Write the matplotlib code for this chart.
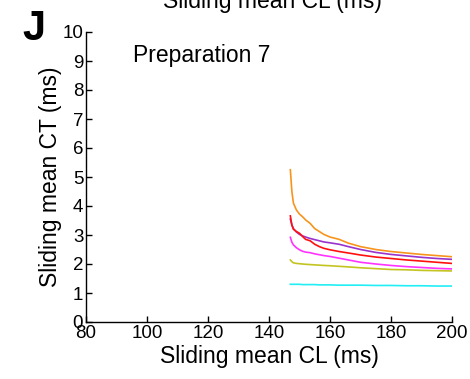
import matplotlib
matplotlib.use("Agg")
import matplotlib.pyplot as plt

plt.rcParams['font.family'] = ['Liberation Sans', 'DejaVu Sans']

cl = [147, 147.5, 148, 149, 150, 151, 152, 153.5, 155, 156.5, 158, 160,
      163, 166, 170, 175, 180, 185, 190, 195, 200]

ct_orange = [5.25, 4.5, 4.1, 3.86, 3.72, 3.63, 3.52, 3.4, 3.22, 3.12, 3.02, 2.93,
             2.85, 2.72, 2.6, 2.5, 2.43, 2.38, 2.33, 2.29, 2.25]
ct_purple = [3.55, 3.35, 3.22, 3.1, 3.02, 2.97, 2.93, 2.88, 2.84, 2.8, 2.76, 2.73,
             2.68, 2.6, 2.5, 2.4, 2.33, 2.28, 2.23, 2.19, 2.16]
ct_red = [3.66, 3.34, 3.2, 3.12, 3.06, 2.95, 2.85, 2.8, 2.68, 2.6, 2.54, 2.49,
          2.43, 2.38, 2.31, 2.24, 2.19, 2.14, 2.1, 2.06, 2.02]
ct_magenta = [2.92, 2.75, 2.66, 2.56, 2.49, 2.44, 2.41, 2.39, 2.35, 2.32, 2.29, 2.26,
              2.2, 2.14, 2.06, 2.0, 1.95, 1.91, 1.88, 1.85, 1.83]
ct_olive = [2.14, 2.08, 2.04, 2.02, 2.01, 2.0, 1.99, 1.98, 1.97, 1.96, 1.95, 1.94,
            1.92, 1.9, 1.87, 1.84, 1.81, 1.8, 1.78, 1.77, 1.76]
ct_cyan = [1.3, 1.3, 1.3, 1.3, 1.3, 1.29, 1.29, 1.29, 1.29, 1.28, 1.28, 1.28,
           1.27, 1.27, 1.27, 1.26, 1.26, 1.25, 1.25, 1.24, 1.24]

series = [
    (ct_orange, '#F7941D'),
    (ct_purple, '#9933CC'),
    (ct_red, '#FF1010'),
    (ct_magenta, '#FF33FF'),
    (ct_olive, '#C4C420'),
    (ct_cyan, '#22EEF5'),
]

xticks = [80, 100, 120, 140, 160, 180, 200]
yticks = list(range(0, 11))

fig = plt.figure(figsize=(4.70, 3.79), dpi=100)
ax = fig.add_axes([86/470, 1 - 322/379, (452-86)/470, (322-32)/379])

for ys, c in series:
    ax.plot(cl, ys, color=c, lw=1.2)

ax.set_xlim(80, 200)
ax.set_ylim(0, 10)
ax.set_xticks(xticks)
ax.set_yticks(yticks)
ax.tick_params(direction='in', length=4, width=1, labelsize=13.5, pad=2)
for s in ['top', 'right']:
    ax.spines[s].set_visible(False)
for s in ['left', 'bottom']:
    ax.spines[s].set_linewidth(1.0)

ax.set_xlabel('Sliding mean CL (ms)', fontsize=16.5, labelpad=2)
ax.set_ylabel('Sliding mean CT (ms)', fontsize=16.5, labelpad=0)

fig.text(133/470, 1 - 62/379, 'Preparation 7', fontsize=16.5,
         ha='left', va='baseline')
fig.text(22/470, 1 - 40/379, 'J', fontsize=30, fontweight='bold',
         ha='left', va='baseline')
fig.text(272/470, 1 - 8/379, 'Sliding mean CL (ms)', fontsize=16.5,
         ha='center', va='baseline')

fig.savefig('out.png', dpi=100)
